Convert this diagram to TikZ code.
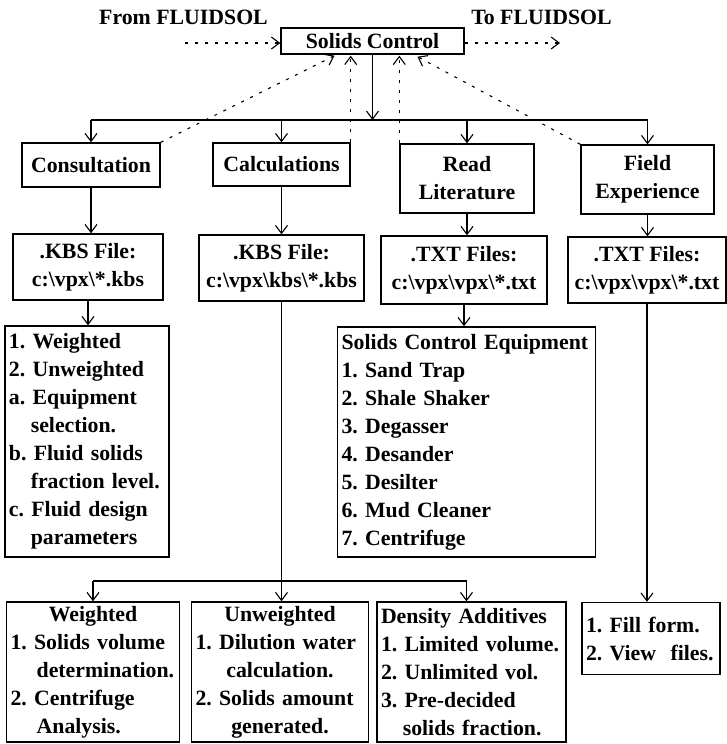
\documentclass[tikz,border=0pt]{standalone}
\usepackage{fontspec}
\setmainfont{Liberation Serif}
\usepackage{tikz}
\usetikzlibrary{arrows.meta,positioning}
\newcommand{\chartfont}{\fontsize{21.8}{28}\selectfont\bfseries\frenchspacing\hyphenpenalty=10000\relax}
\newcommand{\bs}{\textbackslash}
\newcommand{\listindent}{\hspace*{1em}}
\newcommand{\midline}[1]{\hspace*{\fill}#1\hspace*{\fill}\null}
\tikzset{
  chartbox/.style={draw, line width=1.4pt, align=center, inner sep=0pt, font=\chartfont},
  listbox/.style={draw, line width=1.4pt, align=left, inner xsep=4pt, inner ysep=0pt, font=\chartfont},
  labeltext/.style={inner sep=0pt, font=\chartfont},
  flowline/.style={line width=1.1pt},
  flowarrow/.style={-{Straight Barb[length=8pt,width=12pt]}, line width=1.1pt},
  feedback/.style={flowarrow, dash pattern=on 3pt off 7pt}
}

\begin{document}
\begin{tikzpicture}[x=1pt,y=-1pt]
\useasboundingbox (0,0) rectangle (727,744);
\node[labeltext] (fromlbl) at (183.5,17) {From FLUIDSOL};
\node[labeltext] (tolbl) at (541.5,17) {To FLUIDSOL};
\node[chartbox, minimum width=183pt, minimum height=26pt] (sc) at (372.5,41) {Solids Control};
\node[chartbox, minimum width=138pt, minimum height=44pt] (cons) at (91,165) {Consultation};
\node[chartbox, minimum width=137pt, minimum height=43pt] (calc) at (281.5,164.5) {Calculations};
\node[chartbox, minimum width=134pt, minimum height=69pt] (read) at (467,178.5) {Read\\Literature};
\node[chartbox, minimum width=133pt, minimum height=69pt] (field) at (647.5,179.5) {Field\\Experience};
\node[chartbox, minimum width=150pt, minimum height=66pt] (kbsA) at (88,267) {.KBS File:\\c:\bs vpx\bs*.kbs};
\node[chartbox, minimum width=165pt, minimum height=66pt] (kbsB) at (281.5,268) {.KBS File:\\c:\bs vpx\bs kbs\bs*.kbs};
\node[chartbox, minimum width=166pt, minimum height=68pt] (txtA) at (464,270) {.TXT Files:\\c:\bs vpx\bs vpx\bs*.txt};
\node[chartbox, minimum width=158pt, minimum height=66pt] (txtB) at (647,270) {.TXT Files:\\c:\bs vpx\bs vpx\bs*.txt};
\node[listbox, text width=156pt, minimum height=231pt] (listA) at (87,441.5) {1. Weighted\\2. Unweighted\\a. Equipment\\\listindent selection.\\b. Fluid solids\\\listindent fraction level.\\c. Fluid design\\\listindent parameters};
\node[listbox, text width=250pt, minimum height=230pt] (equip) at (466.5,442) {Solids Control Equipment\\1. Sand Trap\\2. Shale Shaker\\3. Degasser\\4. Desander\\5. Desilter\\6. Mud Cleaner\\7. Centrifuge};
\node[listbox, text width=165pt, minimum height=140pt] (weighted) at (93,672) {\midline{Weighted}\\1. Solids volume\\\hspace*{1.2em}determination.\\2. Centrifuge\\\hspace*{1.2em}Analysis.};
\node[listbox, text width=169pt, minimum height=140pt] (unwt) at (280,672) {\midline{Unweighted}\\1. Dilution water\\\midline{calculation.}\\2. Solids amount\\\midline{generated.}};
\node[listbox, text width=181pt, minimum height=140pt] (density) at (471.5,672) {Density Additives\\1. Limited volume.\\2. Unlimited vol.\\3. Pre-decided\\\listindent solids fraction.};
\node[listbox, text width=130pt, minimum height=72pt] (fill) at (651,638.5) {1. Fill form.\\2. View~ files.};
\coordinate (busTop) at (373,120);
\coordinate (busLow) at (280,581);
\coordinate (fromStart) at (185,43);
\coordinate (toEnd) at (560,43);
\draw[feedback] (fromStart) -- (fromStart-|sc.west);
\draw[feedback] (sc.east|-toEnd) -- (toEnd);
\draw[flowarrow] (sc.south) -- (sc.south|-busTop);
\draw[flowline] (cons.north|-busTop) -- (field.north|-busTop);
\draw[flowarrow] (cons.north|-busTop) -- (cons.north);
\draw[flowarrow] (calc.north|-busTop) -- (calc.north);
\draw[flowarrow] (read.north|-busTop) -- (read.north);
\draw[flowarrow] (field.north|-busTop) -- (field.north);
\draw[feedback] (cons.north east) -- ([xshift=-38pt,yshift=-1pt]sc.south);
\draw[feedback] (calc.north east) -- ([yshift=-1pt]calc.north east|-sc.south);
\draw[feedback] (read.north west) -- ([yshift=-1pt]read.north west|-sc.south);
\draw[feedback] (field.north west) -- ([xshift=45pt,yshift=-2pt]sc.south);
\draw[flowarrow] (cons.south) -- (cons.south|-kbsA.north);
\draw[flowarrow] (calc.south) -- (calc.south|-kbsB.north);
\draw[flowarrow] (read.south) -- (read.south|-txtA.north);
\draw[flowarrow] (field.south) -- (field.south|-txtB.north);
\draw[flowarrow] (kbsA.south) -- (kbsA.south|-listA.north);
\draw[flowarrow] (txtA.south) -- (txtA.south|-equip.north);
\draw[flowarrow] (txtB.south) -- (txtB.south|-fill.north);
\draw[flowarrow] (kbsB.south) -- (kbsB.south|-unwt.north);
\draw[flowline] (weighted.north|-busLow) -- (equip.south|-busLow);
\draw[flowarrow] (weighted.north|-busLow) -- (weighted.north);
\draw[flowarrow] (equip.south|-busLow) -- (equip.south|-density.north);
\end{tikzpicture}
\end{document}
